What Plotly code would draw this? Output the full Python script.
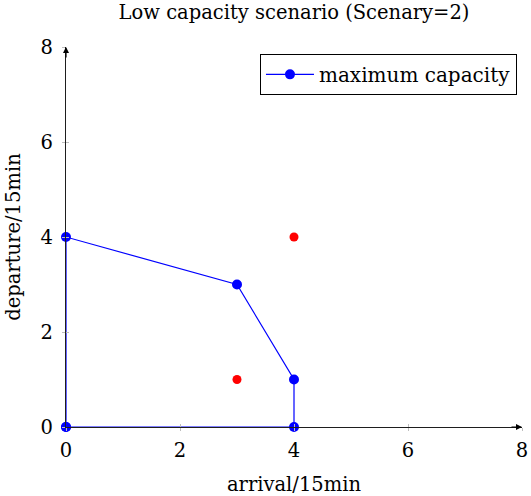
import plotly.graph_objects as go

# data
cap_x = [0, 0, 3, 4, 4, 0]
cap_y = [0, 4, 3, 1, 0, 0]
red_x = [3, 4]
red_y = [1, 4]
tick_vals = [0, 2, 4, 6, 8]
tick_text = ["0", "2", "4", "6", "8"]

FONT = "DejaVu Serif"
FS = 19.5

fig = go.Figure()
fig.add_trace(go.Scatter(x=cap_x, y=cap_y, mode="lines+markers",
                         name="maximum capacity", cliponaxis=False,
                         line=dict(color="rgb(0,0,255)", width=1.2),
                         marker=dict(color="rgb(0,0,255)", size=10)))
fig.add_trace(go.Scatter(x=red_x, y=red_y, mode="markers", showlegend=False,
                         cliponaxis=False,
                         marker=dict(color="rgb(255,0,0)", size=9)))

axis_common = dict(range=[0, 8], tickvals=tick_vals, ticktext=tick_text,
                   showgrid=False, zeroline=False, showline=True, automargin=False,
                   linecolor="rgb(30,30,30)", linewidth=1.3,
                   ticks="outside", ticklen=3, tickcolor="rgb(190,190,190)",
                   tickfont=dict(family=FONT, size=FS, color="black"))

fig.update_layout(
    width=531, height=496,
    margin=dict(l=66, r=9, t=47, b=69, autoexpand=False),
    paper_bgcolor="white", plot_bgcolor="white",
    title=dict(text="Low capacity scenario (Scenary=2)", x=294/531, xanchor="center",
               y=1-12/496, yanchor="middle",
               font=dict(family=FONT, size=FS, color="black")),
    xaxis=dict(**axis_common, ticklabelstandoff=2,
               title=dict(text="arrival/15min", standoff=16,
               font=dict(family=FONT, size=FS, color="black"))),
    yaxis=dict(**axis_common, ticklabelstandoff=5,
               title=dict(text="departure/15min", standoff=14,
               font=dict(family=FONT, size=FS, color="black"))),
    xaxis2=dict(range=[0, 8], overlaying="x", anchor="y", side="bottom", automargin=False,
                tickvals=tick_vals[1:], showticklabels=False, ticks="inside",
                ticklen=3, tickcolor="rgb(190,190,190)", showgrid=False, zeroline=False),
    yaxis2=dict(range=[0, 8], overlaying="y", anchor="x", side="left", automargin=False,
                tickvals=tick_vals[1:], showticklabels=False, ticks="inside",
                ticklen=3, tickcolor="rgb(190,190,190)", showgrid=False, zeroline=False),
    legend=dict(x=0.989, y=0.982, xanchor="right", yanchor="top", itemwidth=48,
                bordercolor="black", borderwidth=1, bgcolor="white",
                font=dict(family=FONT, size=FS+0.5, color="black")),
    showlegend=True,
)

# dummy trace to activate overlay axes
fig.add_trace(go.Scatter(x=[None], y=[None], xaxis="x2", yaxis="y2",
                         showlegend=False, hoverinfo="skip"))

# axis arrowheads
fig.add_annotation(x=8, y=0, xref="x", yref="y", ax=-12, ay=0, showarrow=True,
                   arrowhead=2, arrowsize=1, arrowwidth=1.2, arrowcolor="black", text="")
fig.add_annotation(x=0, y=8, xref="x", yref="y", ax=0, ay=12, showarrow=True,
                   arrowhead=2, arrowsize=1, arrowwidth=1.2, arrowcolor="black", text="")

fig.write_html("out.html", config={"displayModeBar": False},
               post_script="document.body.style.margin='0';")
